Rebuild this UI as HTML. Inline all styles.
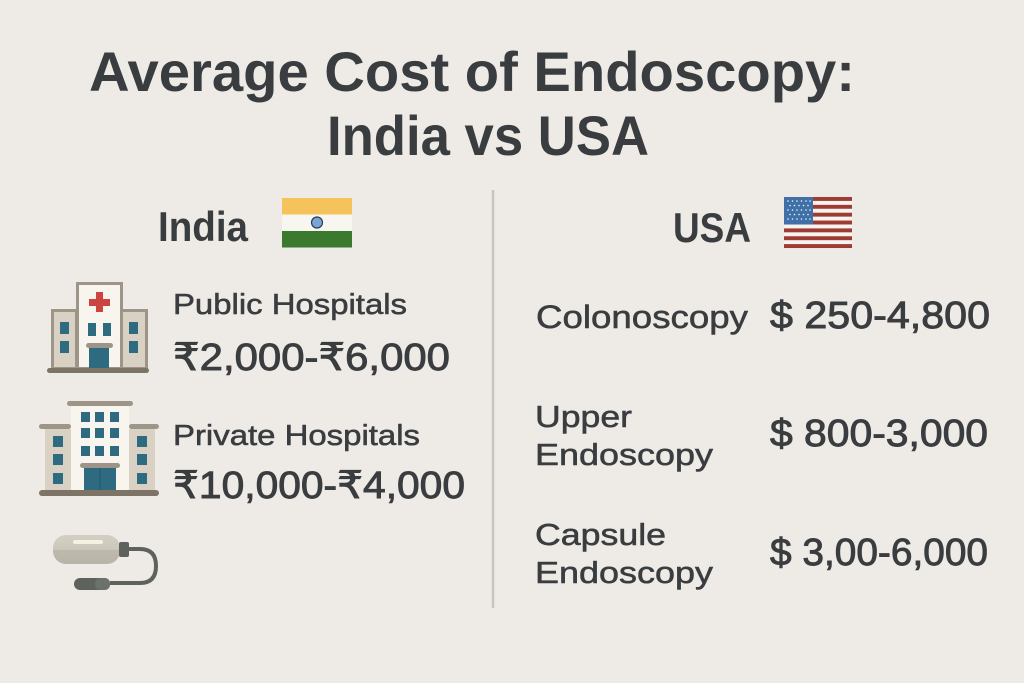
<!DOCTYPE html>
<html>
<head>
<meta charset="utf-8">
<style>
html,body{margin:0;padding:0;background:#eeebe6;}
svg{display:block;}
text{font-family:"Liberation Sans","DejaVu Sans",sans-serif;fill:#3a3d40;}
.b{font-weight:bold;}
.m{stroke:#3a3d40;stroke-width:0.55;}
.p{stroke:#3a3d40;stroke-width:0.9;}
</style>
</head>
<body>
<svg width="1024" height="683" viewBox="0 0 1024 683" xmlns="http://www.w3.org/2000/svg">
<rect x="0" y="0" width="1024" height="683" fill="#eeebe6"/>

<!-- Title -->
<text class="b" x="89" y="91" font-size="56" textLength="766" lengthAdjust="spacingAndGlyphs">Average Cost of Endoscopy:</text>
<text class="b" x="327" y="155" font-size="56" textLength="322" lengthAdjust="spacingAndGlyphs">India vs USA</text>

<!-- Divider -->
<line x1="493" y1="190" x2="493" y2="608" stroke="#c9c5bd" stroke-width="2.5"/>

<!-- India heading -->
<text class="b" x="158" y="241" font-size="42" textLength="90" lengthAdjust="spacingAndGlyphs">India</text>
<rect x="282" y="198" width="70" height="16.5" fill="#f5c25c"/>
<rect x="282" y="214.5" width="70" height="16.5" fill="#f8f6f0"/>
<rect x="282" y="231" width="70" height="16.5" fill="#3b7a2e"/>
<circle cx="317" cy="222.5" r="5.5" fill="#78a6d6" stroke="#2b3a55" stroke-width="1.2"/>

<!-- Hospital 1 (public) -->
<rect x="52.5" y="310.5" width="24" height="58" fill="#d8d1c4" stroke="#9c9588" stroke-width="3"/>
<rect x="121.5" y="310.5" width="25" height="58" fill="#d8d1c4" stroke="#9c9588" stroke-width="3"/>
<rect x="77.5" y="283.5" width="44" height="85" fill="#f8f5ee" stroke="#9c9588" stroke-width="3"/>
<rect x="96" y="292" width="7" height="20" fill="#cc4440"/>
<rect x="89" y="299" width="21" height="7" fill="#cc4440"/>
<rect x="60" y="322" width="9" height="12" fill="#2e6a80"/>
<rect x="60" y="341" width="9" height="12" fill="#2e6a80"/>
<rect x="129" y="322" width="9" height="12" fill="#2e6a80"/>
<rect x="129" y="341" width="9" height="12" fill="#2e6a80"/>
<rect x="88" y="323" width="8" height="13" fill="#2e6a80"/>
<rect x="103" y="323" width="8" height="13" fill="#2e6a80"/>
<rect x="86" y="343" width="27" height="5" rx="2.5" fill="#9c9588"/>
<rect x="89" y="348" width="20" height="21" fill="#2e6a80"/>
<rect x="47" y="368" width="102" height="5" rx="2.5" fill="#7d7467"/>

<!-- Hospital 2 (private) -->
<rect x="45" y="429" width="26" height="63" fill="#d8d1c4"/>
<rect x="129" y="429" width="26" height="63" fill="#d8d1c4"/>
<rect x="71" y="406" width="58" height="86" fill="#f8f5ee"/>
<rect x="67" y="401" width="66" height="5" rx="2.5" fill="#9c9588"/>
<rect x="39" y="424" width="32" height="5" rx="2.5" fill="#9c9588"/>
<rect x="129" y="424" width="30" height="5" rx="2.5" fill="#9c9588"/>
<g fill="#2e6a80">
<rect x="81" y="412" width="9" height="10"/><rect x="95" y="412" width="9" height="10"/><rect x="110" y="412" width="9" height="10"/>
<rect x="81" y="428" width="9" height="10"/><rect x="95" y="428" width="9" height="10"/><rect x="110" y="428" width="9" height="10"/>
<rect x="81" y="446" width="9" height="10"/><rect x="95" y="446" width="9" height="10"/><rect x="110" y="446" width="9" height="10"/>
<rect x="53" y="436" width="10" height="11"/><rect x="53" y="454" width="10" height="11"/><rect x="53" y="473" width="10" height="11"/>
<rect x="137" y="436" width="10" height="11"/><rect x="137" y="454" width="10" height="11"/><rect x="137" y="473" width="10" height="11"/>
<rect x="84" y="468" width="32" height="24"/>
</g>
<rect x="99.5" y="468" width="1" height="24" fill="#24566a"/>
<rect x="80" y="463" width="40" height="5" rx="2.5" fill="#9c9588"/>
<rect x="39" y="490" width="120" height="6" rx="3" fill="#7d7467"/>

<!-- Endoscope -->
<defs>
<linearGradient id="cap" x1="0" y1="0" x2="0" y2="1">
<stop offset="0" stop-color="#d3cfc3"/>
<stop offset="0.5" stop-color="#ccc8bb"/>
<stop offset="0.52" stop-color="#bdb9ac"/>
<stop offset="1" stop-color="#b8b4a7"/>
</linearGradient>
</defs>
<path d="M129 549 H140 Q156 549 156 566 Q156 583 140 583 H110" fill="none" stroke="#5e625f" stroke-width="4"/>
<rect x="53" y="535" width="67" height="29" rx="13" fill="url(#cap)"/>
<rect x="73" y="540" width="30" height="4" rx="2" fill="#f4f0e2"/>
<rect x="119" y="542" width="10" height="15" rx="2" fill="#5e625f"/>
<rect x="74" y="578" width="36" height="12" rx="6" fill="#5e625f"/>
<rect x="95" y="578" width="15" height="12" rx="5" fill="#6d716e"/>

<!-- India text -->
<text class="m" x="173" y="314" font-size="29" textLength="234" lengthAdjust="spacingAndGlyphs">Public Hospitals</text>
<text class="p" x="173" y="370" font-size="38" textLength="277" lengthAdjust="spacingAndGlyphs">₹2,000-₹6,000</text>
<text class="m" x="173" y="445" font-size="29" textLength="247" lengthAdjust="spacingAndGlyphs">Private Hospitals</text>
<text class="p" x="173" y="498" font-size="38" textLength="292" lengthAdjust="spacingAndGlyphs">₹10,000-₹4,000</text>

<!-- USA heading -->
<text class="b" x="673" y="242" font-size="42" textLength="78" lengthAdjust="spacingAndGlyphs">USA</text>
<g>
<rect x="784" y="197" width="68" height="51" fill="#f7f4ef"/>
<g fill="#9e3b35">
<rect x="784" y="197" width="68" height="3.92"/>
<rect x="784" y="204.85" width="68" height="3.92"/>
<rect x="784" y="212.7" width="68" height="3.92"/>
<rect x="784" y="220.55" width="68" height="3.92"/>
<rect x="784" y="228.4" width="68" height="3.92"/>
<rect x="784" y="236.25" width="68" height="3.92"/>
<rect x="784" y="244.1" width="68" height="3.92"/>
</g>
<rect x="784" y="197" width="29" height="27.5" fill="#3f71a8"/>
<g fill="#f4f2ee">
<circle cx="788" cy="201" r="0.8"/><circle cx="792.5" cy="201" r="0.8"/><circle cx="797" cy="201" r="0.8"/><circle cx="801.5" cy="201" r="0.8"/><circle cx="806" cy="201" r="0.8"/><circle cx="810" cy="201" r="0.8"/>
<circle cx="790" cy="205.5" r="0.8"/><circle cx="794.5" cy="205.5" r="0.8"/><circle cx="799" cy="205.5" r="0.8"/><circle cx="803.5" cy="205.5" r="0.8"/><circle cx="808" cy="205.5" r="0.8"/>
<circle cx="788" cy="210" r="0.8"/><circle cx="792.5" cy="210" r="0.8"/><circle cx="797" cy="210" r="0.8"/><circle cx="801.5" cy="210" r="0.8"/><circle cx="806" cy="210" r="0.8"/><circle cx="810" cy="210" r="0.8"/>
<circle cx="790" cy="214.5" r="0.8"/><circle cx="794.5" cy="214.5" r="0.8"/><circle cx="799" cy="214.5" r="0.8"/><circle cx="803.5" cy="214.5" r="0.8"/><circle cx="808" cy="214.5" r="0.8"/>
<circle cx="788" cy="219" r="0.8"/><circle cx="792.5" cy="219" r="0.8"/><circle cx="797" cy="219" r="0.8"/><circle cx="801.5" cy="219" r="0.8"/><circle cx="806" cy="219" r="0.8"/><circle cx="810" cy="219" r="0.8"/>
</g>
</g>

<!-- USA text -->
<text class="m" x="536" y="328" font-size="32" textLength="212" lengthAdjust="spacingAndGlyphs">Colonoscopy</text>
<text class="p" x="770" y="328" font-size="38" textLength="220" lengthAdjust="spacingAndGlyphs">$ 250-4,800</text>

<text class="m" x="535" y="427" font-size="31" textLength="97" lengthAdjust="spacingAndGlyphs">Upper</text>
<text class="m" x="535" y="465" font-size="31" textLength="178" lengthAdjust="spacingAndGlyphs">Endoscopy</text>
<text class="p" x="770" y="446" font-size="38" textLength="218" lengthAdjust="spacingAndGlyphs">$ 800-3,000</text>

<text class="m" x="535" y="545" font-size="31" textLength="131" lengthAdjust="spacingAndGlyphs">Capsule</text>
<text class="m" x="535" y="583" font-size="31" textLength="178" lengthAdjust="spacingAndGlyphs">Endoscopy</text>
<text class="p" x="770" y="565" font-size="38" textLength="218" lengthAdjust="spacingAndGlyphs">$ 3,00-6,000</text>
</svg>
</body>
</html>
